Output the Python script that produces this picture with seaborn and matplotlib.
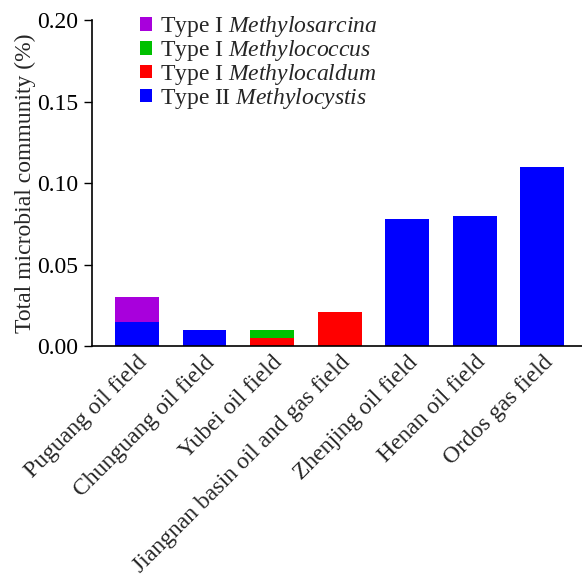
import matplotlib
matplotlib.use("Agg")
import matplotlib.pyplot as plt
import pandas as pd
import seaborn as sns
from matplotlib.ticker import FormatStrFormatter

# Data (%)
sites = ["Puguang oil field", "Chunguang oil field", "Yubei oil field",
         "Jiangnan basin oil and gas field", "Zhenjing oil field",
         "Henan oil field", "Ordos gas field"]
methylocystis = [0.015, 0.010, 0.0, 0.0, 0.078, 0.080, 0.110]
methylocaldum = [0.0, 0.0, 0.005, 0.021, 0.0, 0.0, 0.0]
methylococcus = [0.0, 0.0, 0.005, 0.0, 0.0, 0.0, 0.0]
methylosarcina = [0.015, 0.0, 0.0, 0.0, 0.0, 0.0, 0.0]

series_labels = [r"Type II $\mathit{Methylocystis}$",
                 r"Type I $\mathit{Methylocaldum}$",
                 r"Type I $\mathit{Methylococcus}$",
                 r"Type I $\mathit{Methylosarcina}$"]
colors = ["#0000FF", "#FF0000", "#00C000", "#A800DC"]

sns.set_style("ticks")
plt.rcParams["font.family"] = "serif"
plt.rcParams["font.serif"] = ["Liberation Serif", "DejaVu Serif"]
plt.rcParams["mathtext.fontset"] = "custom"
plt.rcParams["mathtext.rm"] = "Liberation Serif"
plt.rcParams["mathtext.it"] = "Liberation Serif:italic"

df = pd.DataFrame({"Site": sites, "b": methylocystis, "r": methylocaldum,
                   "g": methylococcus, "p": methylosarcina})
# cumulative heights for stacking (drawn tallest first, overlaid)
df["c1"] = df["b"]
df["c2"] = df["c1"] + df["r"]
df["c3"] = df["c2"] + df["g"]
df["c4"] = df["c3"] + df["p"]

fig = plt.figure(figsize=(5.82, 5.79), dpi=100)
ax = fig.add_axes([0.158, 0.402, 0.842, 0.563])

for col, color, label in reversed(list(zip(["c1", "c2", "c3", "c4"], colors, series_labels))):
    sns.barplot(data=df, x="Site", y=col, color=color, width=0.65,
                saturation=1, linewidth=0, label=label, ax=ax)

ax.set_xlim(-0.667, 6.59)
ax.set_ylim(0, 0.20)
ax.set_yticks([0, 0.05, 0.10, 0.15, 0.20])
ax.yaxis.set_major_formatter(FormatStrFormatter("%.2f"))
ax.set_xlabel("")
ax.set_ylabel("Total microbial community (%)", fontsize=17, labelpad=1)
ax.tick_params(axis="y", labelsize=17, direction="out", length=6, width=1,
               pad=4, colors="black")
ax.tick_params(axis="x", length=0, labelsize=17, pad=4)
plt.setp(ax.get_xticklabels(), rotation=45, ha="right", rotation_mode="anchor")
for s in ["top", "right"]:
    ax.spines[s].set_visible(False)
for s in ["left", "bottom"]:
    ax.spines[s].set_linewidth(1.2)
    ax.spines[s].set_color("black")

ax.legend(loc="upper left", bbox_to_anchor=(0.098, 1.018), frameon=False,
          fontsize=17, handlelength=0.5, handleheight=0.5, borderpad=0,
          handletextpad=0.35, labelspacing=-0.05, borderaxespad=0)

fig.savefig("out.png", dpi=100)
